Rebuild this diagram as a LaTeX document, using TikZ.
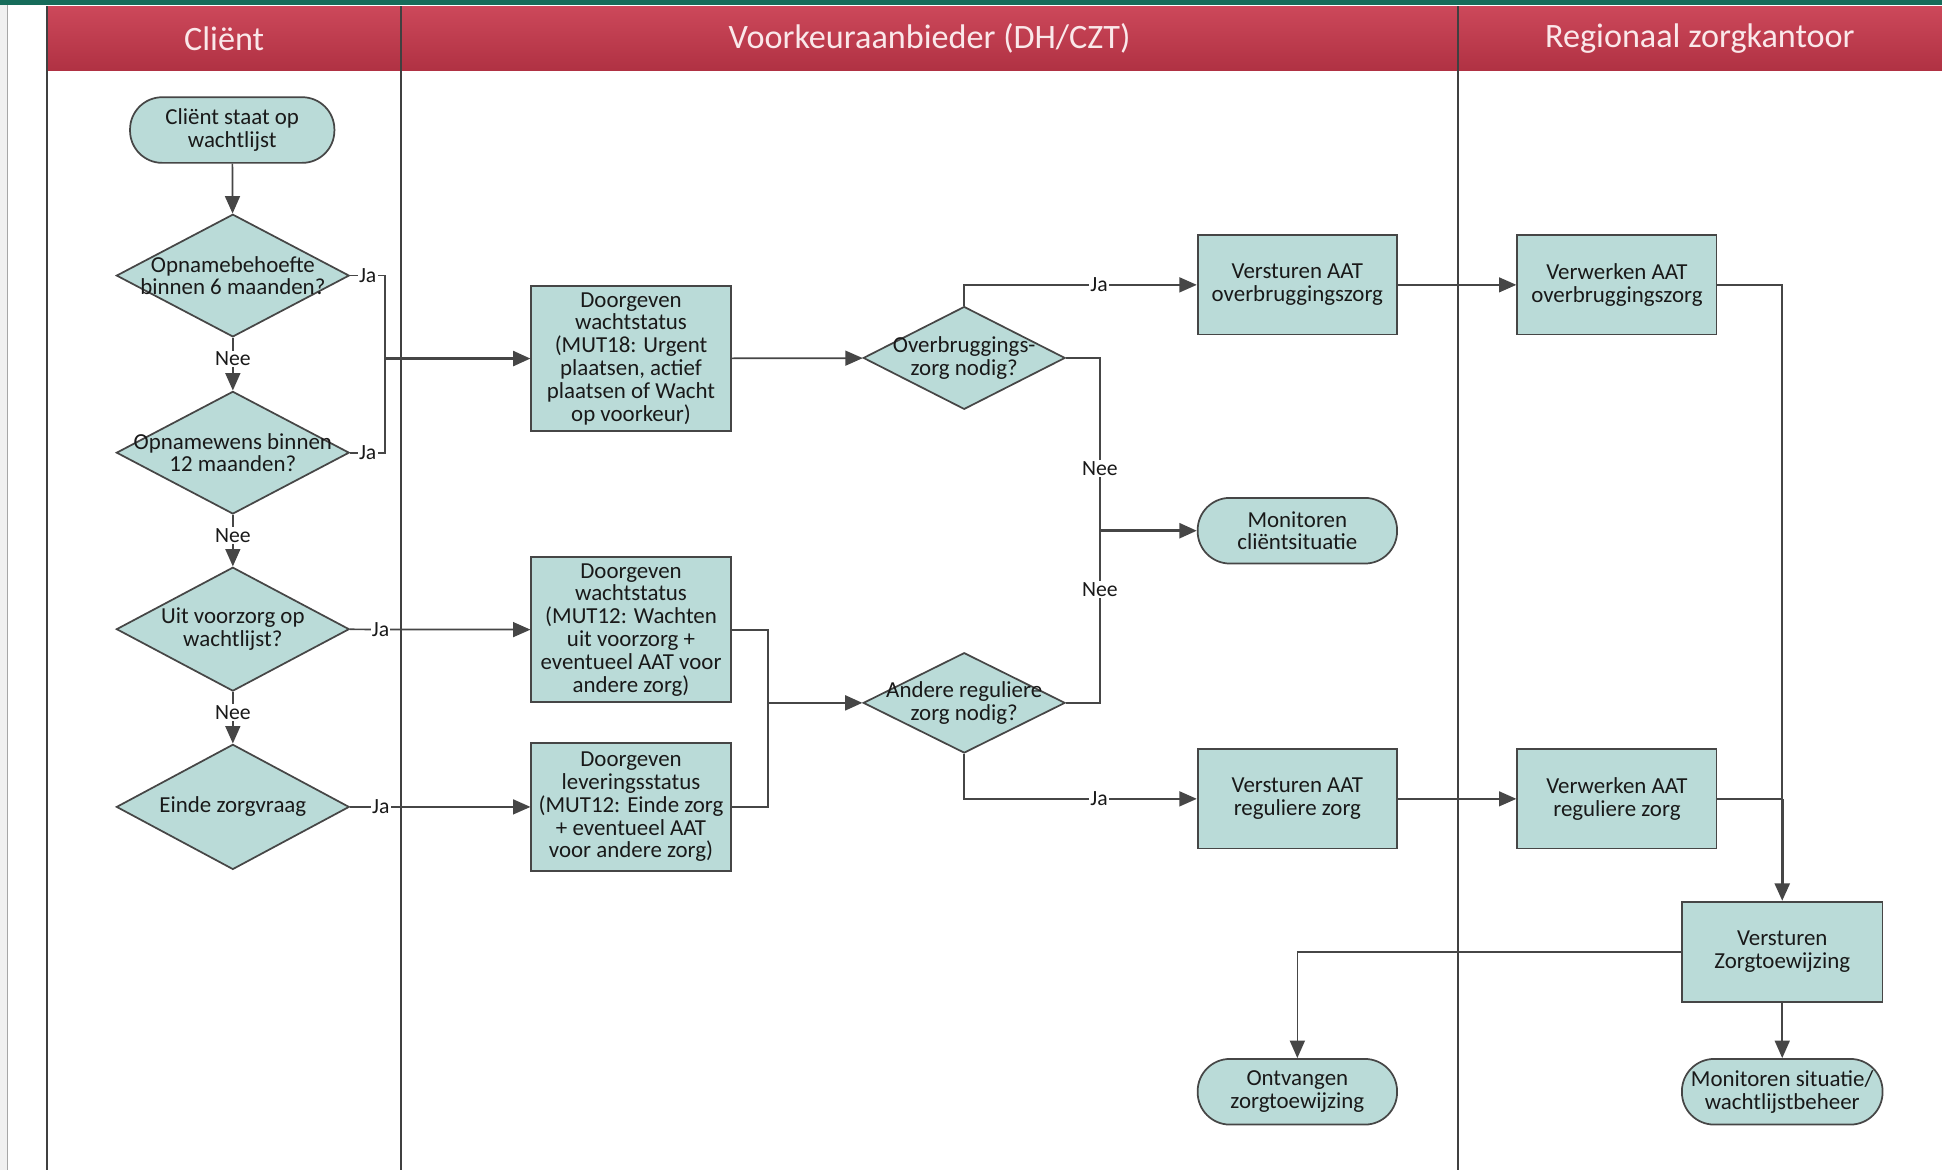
\documentclass[tikz,border=0pt]{standalone}
\usepackage{fontspec}
\setmainfont{Carlito}
\usetikzlibrary{shapes.geometric,arrows.meta}
\definecolor{fillc}{RGB}{186,219,216}
\definecolor{edgec}{RGB}{70,70,70}
\definecolor{hdr}{RGB}{200,56,76}
\definecolor{hdrtext}{RGB}{250,232,234}
\definecolor{topbar}{RGB}{22,108,90}
\definecolor{txt}{RGB}{25,25,25}
\begin{document}
\begin{tikzpicture}[x=1pt,y=-1pt,
  base/.style={draw=edgec, fill=fillc, line width=1.4pt, align=center, text=txt,
    font=\fontsize{18.5}{18.4}\selectfont, inner sep=1pt},
  proc/.style={base, rectangle, minimum width=161pt, minimum height=#1},
  term/.style={base, rectangle, rounded corners=26pt, minimum width=#1, minimum height=53pt},
  dia/.style={base, diamond, minimum width=#1, inner sep=0pt},
  dtext/.style={align=center, text=txt, font=\fontsize{18.5}{18.4}\selectfont, inner sep=0pt},
  arr/.style={draw=edgec, line width=1.4pt, -{Triangle[length=14pt,width=12pt]}},
  ln/.style={draw=edgec, line width=1.4pt},
  thick arr/.style={arr, line width=2.2pt},
  lbl/.style={fill=white, inner sep=1pt, text=txt, font=\fontsize{17.5}{18}\selectfont},
  hdbox/.style={rectangle, top color=hdr!92!white, bottom color=hdr!88!black, draw=none,
    text=hdrtext, font=\fontsize{27.6}{30}\selectfont, minimum height=52pt, inner sep=0pt},
  lane/.style={draw=black!75, line width=1.6pt}
]
\useasboundingbox (0,0) rectangle (1568,945);
% background frame
\fill[white] (0,0) rectangle (1568,945);
\fill[black!6] (0,0) rectangle (6,945);
\draw[black!35, line width=0.8pt] (6,0) -- (6,945);
\fill[topbar] (0,0) rectangle (1568,4);

% headers
\node[hdbox, minimum width=286pt] (h1) at (181,31) {Cliënt};
\node[hdbox, minimum width=853pt] (h2) at (750.5,31) {Voorkeuraanbieder (DH/CZT)};
\node[hdbox, minimum width=391pt] (h3) at (1372.5,31) {Regionaal zorgkantoor};

% lane lines
\draw[lane] (38,5) -- (38,945);
\draw[lane] (324,5) -- (324,945);
\draw[lane] (1177,5) -- (1177,945);

% client lane
\node[term=165pt] (start) at (187.5,105) {Cliënt staat op\\wachtlijst};
\node[dia=188pt, minimum height=99pt] (d1) at (188,222.5) {};
\node[dtext] (d1t) at (d1) {Opnamebehoefte\\binnen 6 maanden?};
\node[dia=188pt, minimum height=99pt] (d2) at (188,365.5) {};
\node[dtext] (d2t) at (d2) {Opnamewens binnen\\12 maanden?};
\node[dia=188pt, minimum height=100pt] (d3) at (188,508) {};
\node[dtext] (d3t) at (d3) {Uit voorzorg op\\wachtlijst?};
\node[dia=188pt, minimum height=101pt] (d4) at (188,651.5) {};
\node[dtext] (d4t) at (d4) {Einde zorgvraag};

% voorkeuraanbieder lane
\node[proc=117pt] (box1) at (509.5,289.5) {Doorgeven\\wachtstatus\\(MUT18: Urgent\\plaatsen, actief\\plaatsen of Wacht\\op voorkeur)};
\node[proc=117pt] (box2) at (509.5,508.5) {Doorgeven\\wachtstatus\\(MUT12: Wachten\\uit voorzorg +\\eventueel AAT voor\\andere zorg)};
\node[proc=103pt] (box3) at (509.5,651.5) {Doorgeven\\leveringsstatus\\(MUT12: Einde zorg\\+ eventueel AAT\\voor andere zorg)};
\node[dia=163pt, minimum height=83pt] (d5) at (778.5,289) {};
\node[dtext] (d5t) at (d5) {Overbruggings-\\zorg nodig?};
\node[dia=163pt, minimum height=81pt] (d6) at (778.5,567.5) {};
\node[dtext] (d6t) at (d6) {Andere reguliere\\zorg nodig?};
\node[proc=80pt] (vo) at (1047.5,230) {Versturen AAT\\overbruggingszorg};
\node[term=161pt] (mc) at (1047.5,428.5) {Monitoren\\cliëntsituatie};
\node[proc=80pt] (vr) at (1047.5,645) {Versturen AAT\\reguliere zorg};
\node[term=161pt] (oz) at (1047.5,881.5) {Ontvangen\\zorgtoewijzing};

% regionaal zorgkantoor lane
\node[proc=80pt] (wo) at (1305.5,230) {Verwerken AAT\\overbruggingszorg};
\node[proc=80pt] (wr) at (1305.5,645) {Verwerken AAT\\reguliere zorg};
\node[proc=81pt, minimum width=162pt] (vz) at (1439,768.5) {Versturen\\Zorgtoewijzing};
\node[term=162pt] (ms) at (1439,881.5) {Monitoren situatie/\\wachtlijstbeheer};

% junction coordinates
\coordinate (jx) at (311,289.5);
\coordinate (m2) at (620,567.5);
\coordinate (m3) at (888,428.5);
\coordinate (m4) at (1439,645);

% client connectors
\draw[arr] (start) -- (d1);
\draw[arr] (d1) -- node[lbl,pos=0.4]{Nee} (d2);
\draw[arr] (d2) -- node[lbl,pos=0.4]{Nee} (d3);
\draw[arr] (d3) -- node[lbl,pos=0.4]{Nee} (d4);
\draw[ln] (d1.east) -- node[lbl]{Ja} (d1.east -| jx) -- (d2.east -| jx) -- node[lbl]{Ja} (d2.east);
\draw[thick arr] (jx) -- (box1);
\draw[arr] (d3) -- node[lbl,pos=0.17]{Ja} (box2);
\draw[arr] (d4) -- node[lbl,pos=0.17]{Ja} (box3);

% voorkeuraanbieder connectors
\draw[arr] (box1) -- (d5);
\draw[ln] (box2.east) -| (m2);
\draw[ln] (box3.east) -| (m2);
\draw[thick arr] (m2) -- (d6.west);
\draw[arr] (d5.north) |- node[lbl,pos=0.79]{Ja} (vo.west);
\draw[ln] (d5.east) -| node[lbl,pos=0.82]{Nee} (m3);
\draw[ln] (d6.east) -| node[lbl,pos=0.83]{Nee} (m3);
\draw[thick arr] (m3) -- (mc.west);
\draw[arr] (d6.south) |- node[lbl,pos=0.79]{Ja} (vr.west);

% cross-lane connectors
\draw[arr] (vo) -- (wo);
\draw[arr] (vr) -- (wr);
\draw[ln] (wo.east) -| (m4);
\draw[ln] (wr.east) -- (m4);
\draw[thick arr] (m4) -- (vz.north);
\draw[arr] (vz.west) -| (oz.north);
\draw[arr] (vz) -- (ms);
\end{tikzpicture}
\end{document}
